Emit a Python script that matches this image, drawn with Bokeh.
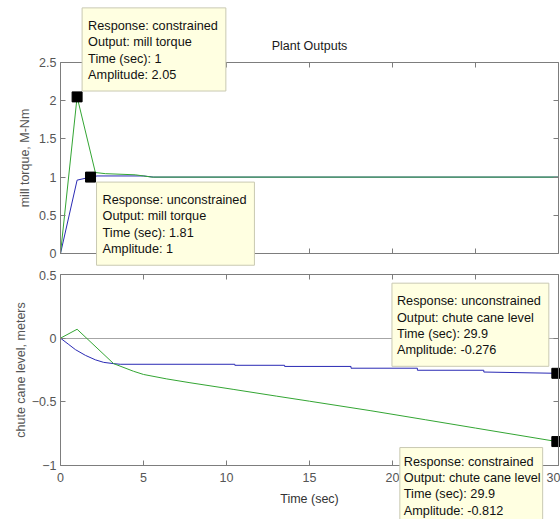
import math
from bokeh.plotting import figure
from bokeh.models import Label, LinearAxis, Range1d, FixedTicker
from bokeh.layouts import column
from bokeh.embed import file_html
from bokeh.resources import INLINE

# ---------------- data ----------------
x_ticks = [0, 5, 10, 15, 20, 25, 30]
top_y_ticks = [0, 0.5, 1, 1.5, 2, 2.5]
bot_y_ticks = [-1, -0.5, 0, 0.5]

# mill torque (top)
t_mill_con = [0, 1, 2.1, 2.7, 4.5, 5.5, 30]
mill_con = [0, 2.05, 1.06, 1.045, 1.03, 1.0, 1.0]
t_mill_unc = [0, 1, 1.81, 2.2, 5.0, 5.6, 30]
mill_unc = [0, 0.96, 1.0, 1.015, 1.015, 1.0, 1.0]

# chute cane level (bottom)
t_chute_con = [0, 1, 3.2, 4.4, 5, 6.4, 7.8, 10.4, 13, 15, 18.7, 22, 25, 29.9]
chute_con = [0, 0.07, -0.2, -0.26, -0.285, -0.32, -0.35, -0.402, -0.455, -0.495,
             -0.57, -0.641, -0.706, -0.812]
t_chute_unc = [0, 0.5, 0.9, 1.5, 2.1, 2.6, 3.2, 3.6, 10.5, 10.5, 13.5, 13.5,
               17.5, 17.5, 21.5, 21.5, 25.5, 25.5, 29.9]
chute_unc = [0, -0.05, -0.09, -0.135, -0.17, -0.19, -0.2, -0.205, -0.205, -0.213,
             -0.213, -0.222, -0.222, -0.236, -0.236, -0.252, -0.252, -0.266, -0.276]

# data tips
tip_response = ["constrained", "unconstrained", "unconstrained", "constrained"]
tip_output = ["mill torque", "mill torque", "chute cane level", "chute cane level"]
tip_time = [1, 1.81, 29.9, 29.9]
tip_amp = [2.05, 1, -0.276, -0.812]

FONT = "Liberation Sans"
AX = "#7d7d7d"
GREEN = "#33a533"
BLUE = "#2a2ab4"

# ---------------- geometry (canvas pixels) ----------------
W = 560
X0_PX, X1_PX = 60, 558          # where x=0 and x=30 land
H_TOP, H_BOT = 270, 249
TOP_Y1_PX, TOP_Y0_PX = 62, 253  # top plot: 2.5 and 0
BOT_Y1_PX, BOT_Y0_PX = 4, 195   # bottom plot: 0.5 and -1 (local)


def lin_range(v0, v1, p0, p1, total):
    per = (p1 - p0) / (v1 - v0)
    return Range1d(v0 - p0 / per, v1 + (total - p1) / per)


def y_range(v0, v1, p_top, p_bot, total):
    per = (p_bot - p_top) / (v1 - v0)
    return Range1d(v0 - (total - p_bot) / per, v1 + p_top / per)


def tip_text(i):
    return (f"Response: {tip_response[i]}\nOutput: {tip_output[i]}\n"
            f"Time (sec): {tip_time[i]:g}\nAmplitude: {tip_amp[i]:g}")


def make_axis(loc, bounds, ticks, labels, standoff=5):
    ax = LinearAxis(fixed_location=loc, bounds=bounds,
                    ticker=FixedTicker(ticks=ticks))
    ax.axis_line_color = AX
    ax.major_tick_line_color = AX
    ax.major_tick_in = 5
    ax.major_tick_out = 0
    ax.minor_tick_line_color = None
    ax.major_label_text_font = FONT
    ax.major_label_text_font_size = "12.5px"
    ax.major_label_text_color = "#555555" if labels else None
    ax.major_label_standoff = standoff
    return ax


def make_fig(h, yr, yticks, xlabels):
    p = figure(width=W, height=h,
               x_range=lin_range(x_ticks[0], x_ticks[-1], X0_PX, X1_PX, W),
               y_range=yr, x_axis_location=None, y_axis_location=None,
               output_backend="svg", toolbar_location=None,
               min_border_left=0, min_border_right=0,
               min_border_top=0, min_border_bottom=0)
    p.grid.visible = False
    p.outline_line_color = None
    p.background_fill_color = "white"
    p.border_fill_color = "white"
    xb = (x_ticks[0], x_ticks[-1])
    yb = (yticks[0], yticks[-1])
    p.add_layout(make_axis(yticks[0], xb, x_ticks, xlabels, 7), "below")
    p.add_layout(make_axis(yticks[-1], xb, x_ticks, False), "above")
    p.add_layout(make_axis(x_ticks[0], yb, yticks, True, 4), "left")
    p.add_layout(make_axis(x_ticks[-1], yb, yticks, False), "right")
    return p


def add_text(p, x, y, text, xo=0, yo=0, angle=0.0, size="12.5px",
             color="#555555"):
    p.add_layout(Label(x=x, y=y, x_offset=xo, y_offset=yo, text=text,
                       angle=angle, text_align="center",
                       text_baseline="middle", text_font=FONT,
                       text_font_size=size, text_color=color))


def add_tip(p, i, anchor, xo, yo, pad):
    p.add_layout(Label(x=tip_time[i], y=tip_amp[i], x_offset=xo, y_offset=yo,
                       text=tip_text(i), anchor=anchor,
                       text_font=FONT, text_font_size="12.7px",
                       text_line_height=1.17, text_color="#111111",
                       background_fill_color="#ffffe1",
                       border_line_color="#c9c9b2", border_line_width=1,
                       padding=pad))


# ---------------- top figure ----------------
p1 = make_fig(H_TOP, y_range(top_y_ticks[0], top_y_ticks[-1], TOP_Y1_PX,
                             TOP_Y0_PX, H_TOP), top_y_ticks, False)
p1.line(t_mill_unc, mill_unc, line_color=BLUE, line_width=1)
p1.line(t_mill_con, mill_con, line_color=GREEN, line_width=1)
p1.scatter(tip_time[:2], tip_amp[:2], marker="square", size=10,
           fill_color="black", line_color="black")
add_text(p1, x_ticks[len(x_ticks) // 2], top_y_ticks[-1], "Plant Outputs",
         yo=17, color="#1a1a1a")
add_text(p1, x_ticks[0], (top_y_ticks[0] + top_y_ticks[-1]) / 2,
         "mill torque, M-Nm", xo=-36, angle=math.pi / 2)
add_tip(p1, 0, "top_left", 5, 89, dict(left=6, right=8, top=11, bottom=9))
add_tip(p1, 1, "top_left", 6, -5, dict(left=6, right=8, top=11, bottom=9))

# ---------------- bottom figure ----------------
p2 = make_fig(H_BOT, y_range(bot_y_ticks[0], bot_y_ticks[-1], BOT_Y1_PX,
                             BOT_Y0_PX, H_BOT), bot_y_ticks, True)
zero = LinearAxis(fixed_location=0, bounds=(x_ticks[0], x_ticks[-1]),
                  ticker=FixedTicker(ticks=[]), level="underlay")
zero.axis_line_color = "#a6a6a6"
zero.major_tick_line_color = None
zero.minor_tick_line_color = None
zero.major_label_text_color = None
p2.add_layout(zero, "below")
p2.line(t_chute_unc, chute_unc, line_color=BLUE, line_width=1)
p2.line(t_chute_con, chute_con, line_color=GREEN, line_width=1)
p2.scatter(tip_time[2:], tip_amp[2:], marker="square", size=10,
           fill_color="black", line_color="black")
add_text(p2, x_ticks[0], (bot_y_ticks[0] + bot_y_ticks[-1]) / 2,
         "chute cane level, meters", xo=-40, angle=math.pi / 2)
add_text(p2, x_ticks[len(x_ticks) // 2], bot_y_ticks[0], "Time (sec)",
         yo=-33, color="#333333")
add_tip(p2, 2, "bottom_right", -8, 7, dict(left=5, right=8, top=11, bottom=9))
add_tip(p2, 3, "top_left", -157, -6, dict(left=4, right=2, top=7, bottom=4))

layout = column(p1, p2, spacing=0)
open("out.html", "w").write(file_html(layout, INLINE))
